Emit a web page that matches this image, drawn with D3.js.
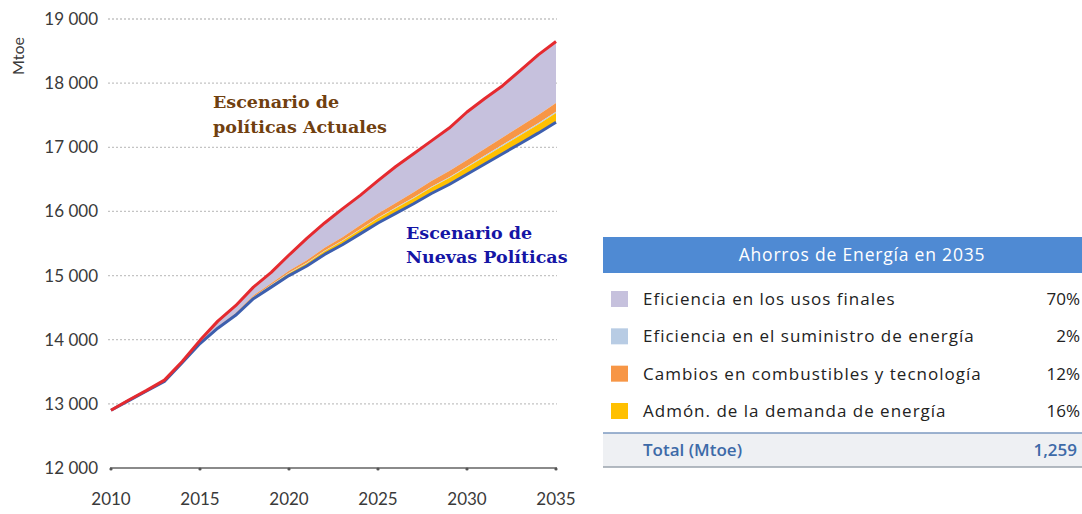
<!DOCTYPE html>
<html>
<head>
<meta charset="utf-8">
<script src="https://cdn.jsdelivr.net/npm/d3@7"></script>
<style>
  body { margin: 0; background: #fff; }
  svg { display: block; }
</style>
</head>
<body>
<div id="chart"></div>
<script>
// years on the x axis
const years = d3.range(2010, 2036);

// Current Policies Scenario (Mtoe)
const currentPolicies = [12900, 13060, 13210, 13370, 13660, 13990, 14290, 14530, 14820, 15050,
  15320, 15580, 15820, 16040, 16250, 16480, 16700, 16900, 17100, 17300,
  17550, 17760, 17960, 18200, 18440, 18650];

// New Policies Scenario (Mtoe)
const newPolicies = [12900, 13050, 13200, 13350, 13640, 13940, 14180, 14380, 14640, 14820,
  15000, 15150, 15330, 15480, 15650, 15820, 15970, 16120, 16280, 16420,
  16580, 16740, 16900, 17060, 17220, 17390];

// savings wedges sitting on top of New Policies (Mtoe)
const demandMgmt = [0, 0, 0, 3, 5, 8, 12, 17, 25, 30, 37, 44, 51, 58, 65, 72, 80, 86, 93, 100, 107, 114, 121, 128, 136, 145];
const supplyEff  = [0, 0, 0, 0, 1, 1, 2, 3, 4, 5, 6, 6, 7, 8, 9, 10, 11, 12, 13, 14, 15, 16, 17, 18, 19, 20];
const fuelSwitch = [0, 0, 0, 2, 4, 6, 10, 14, 20, 25, 31, 38, 45, 52, 60, 66, 72, 80, 88, 95, 100, 108, 115, 122, 128, 135];

const yTicks = [12000, 13000, 14000, 15000, 16000, 17000, 18000, 19000];
const xTicks = [2010, 2015, 2020, 2025, 2030, 2035];

// table
const tableTitle = "Ahorros de Energía en 2035";
const savingsLabels = ["Eficiencia en los usos finales", "Eficiencia en el suministro de energía",
  "Cambios en combustibles y tecnología", "Admón. de la demanda de energía"];
const savingsShares = ["70%", "2%", "12%", "16%"];
const totalLabel = "Total (Mtoe)";
const totalValue = "1,259";

const colors = {
  end: "#c6c1dd",
  supply: "#b8cce4",
  fuel: "#f79646",
  demand: "#ffc000"
};
const swatches = [colors.end, colors.supply, colors.fuel, colors.demand];

const W = 1082, H = 514;
const svg = d3.select("#chart").append("svg").attr("width", W).attr("height", H);

const x = d3.scaleLinear().domain([2010, 2035]).range([111, 556]);
const y = d3.scaleLinear().domain([12000, 19000]).range([468, 19]);

const tickFont = "Lato, 'Open Sans', sans-serif";

// gridlines
svg.append("g").selectAll("line")
  .data(yTicks.filter(d => d > 12000))
  .join("line")
    .attr("x1", 108).attr("x2", 557)
    .attr("y1", d => y(d)).attr("y2", d => y(d))
    .attr("stroke", "#c4c4c4")
    .attr("stroke-width", 1.3)
    .attr("stroke-dasharray", "2,2");

// stacked bands
const rows = years.map((yr, i) => {
  const b0 = newPolicies[i];
  const b1 = b0 + demandMgmt[i];
  const b2 = b1 + supplyEff[i];
  const b3 = b2 + fuelSwitch[i];
  return { yr, b0, b1, b2, b3, top: Math.max(currentPolicies[i], b3) };
});

const band = (lo, hi) => d3.area()
  .x(d => x(d.yr))
  .y0(d => y(d[lo]))
  .y1(d => y(d[hi]));

const bandsG = svg.append("g");
bandsG.append("path").datum(rows).attr("d", band("b3", "top")).attr("fill", colors.end);
bandsG.append("path").datum(rows).attr("d", band("b2", "b3")).attr("fill", colors.fuel);
bandsG.append("path").datum(rows).attr("d", band("b1", "b2")).attr("fill", colors.supply);
bandsG.append("path").datum(rows).attr("d", band("b0", "b1")).attr("fill", colors.demand);

const line = d3.line().x((d, i) => x(years[i])).y(d => y(d));

svg.append("path").datum(newPolicies)
  .attr("d", line)
  .attr("fill", "none")
  .attr("stroke", "#3d5fae")
  .attr("stroke-width", 3)
  .attr("stroke-linejoin", "round");

svg.append("path").datum(currentPolicies)
  .attr("d", line)
  .attr("fill", "none")
  .attr("stroke", "#e52a2f")
  .attr("stroke-width", 3)
  .attr("stroke-linejoin", "round");

// x axis
const xAxis = svg.append("g").attr("transform", `translate(0,${y(12000)})`);
xAxis.append("line")
  .attr("x1", 110).attr("x2", 557)
  .attr("stroke", "#8a8a8a").attr("stroke-width", 2.2);
xAxis.selectAll("circle.tk")
  .data(xTicks)
  .join("circle")
    .attr("class", "tk")
    .attr("cx", d => x(d)).attr("cy", 1)
    .attr("r", 1.6)
    .attr("fill", "#555");
xAxis.selectAll("text")
  .data(xTicks)
  .join("text")
    .attr("x", d => x(d)).attr("y", 37)
    .attr("text-anchor", "middle")
    .attr("font-family", tickFont)
    .attr("font-size", 17)
    .attr("fill", "#3a3a3a")
    .text(d => d);

// y axis labels
svg.append("g").selectAll("text")
  .data(yTicks)
  .join("text")
    .attr("x", 98).attr("y", d => y(d) + 6)
    .attr("text-anchor", "end")
    .attr("font-family", tickFont)
    .attr("font-size", 17)
    .attr("fill", "#3a3a3a")
    .text(d => d3.format(",")(d).replace(",", " "));

svg.append("text")
  .attr("transform", "translate(24,56) rotate(-90)")
  .attr("text-anchor", "middle")
  .attr("font-family", tickFont)
  .attr("font-size", 16)
  .attr("fill", "#3a3a3a")
  .text("Mtoe");

// scenario labels
const serif = "'DejaVu Serif', 'Liberation Serif', serif";
const cps = svg.append("text")
  .attr("font-family", serif)
  .attr("font-weight", "bold")
  .attr("font-size", 17.5)
  .attr("fill", "#70400f");
cps.append("tspan").attr("x", 213).attr("y", 108).text("Escenario de");
cps.append("tspan").attr("x", 213).attr("y", 133).text("políticas Actuales");

const nps = svg.append("text")
  .attr("font-family", serif)
  .attr("font-weight", "bold")
  .attr("font-size", 17.5)
  .attr("fill", "#1515a5");
nps.append("tspan").attr("x", 406).attr("y", 239).text("Escenario de");
nps.append("tspan").attr("x", 406).attr("y", 263).text("Nuevas Políticas");

// table
const tbl = svg.append("g");
const tFont = "'Open Sans', Lato, sans-serif";
tbl.append("rect")
  .attr("x", 603).attr("y", 237)
  .attr("width", W - 603).attr("height", 36)
  .attr("fill", "#4f8ad3");
tbl.append("text")
  .attr("x", 862).attr("y", 261)
  .attr("text-anchor", "middle")
  .attr("font-family", tFont)
  .attr("font-size", 17.5)
  .attr("letter-spacing", 0.8)
  .attr("fill", "#fff")
  .text(tableTitle);

const rowY = d3.scalePoint().domain(d3.range(savingsLabels.length)).range([299, 411]);

const rowG = tbl.selectAll("g.row")
  .data(savingsLabels)
  .join("g")
    .attr("class", "row")
    .attr("transform", (d, i) => `translate(0,${rowY(i)})`);
rowG.append("rect")
  .attr("x", 611).attr("y", -8)
  .attr("width", 17).attr("height", 16)
  .attr("fill", (d, i) => swatches[i]);
rowG.append("text")
  .attr("x", 643).attr("y", 6)
  .attr("font-family", tFont)
  .attr("font-size", 17)
  .attr("letter-spacing", 1)
  .attr("fill", "#222")
  .text(d => d);
rowG.append("text")
  .attr("x", 1080).attr("y", 6)
  .attr("text-anchor", "end")
  .attr("font-family", tFont)
  .attr("font-size", 17)
  .attr("fill", "#222")
  .text((d, i) => savingsShares[i]);

tbl.append("rect")
  .attr("x", 603).attr("y", 433)
  .attr("width", W - 603).attr("height", 34)
  .attr("fill", "#eef0f3");
tbl.append("line")
  .attr("x1", 603).attr("x2", W)
  .attr("y1", 433).attr("y2", 433)
  .attr("stroke", "#7d9ac0").attr("stroke-width", 1.5);
tbl.append("line")
  .attr("x1", 603).attr("x2", W)
  .attr("y1", 467).attr("y2", 467)
  .attr("stroke", "#9aa3ad").attr("stroke-width", 1.5);
tbl.append("text")
  .attr("x", 643).attr("y", 456)
  .attr("font-family", tFont)
  .attr("font-size", 17)
  .attr("font-weight", 600)
  .attr("fill", "#3d6aa8")
  .text(totalLabel);
tbl.append("text")
  .attr("x", 1077).attr("y", 456)
  .attr("text-anchor", "end")
  .attr("font-family", tFont)
  .attr("font-size", 17)
  .attr("font-weight", 600)
  .attr("fill", "#3d6aa8")
  .text(totalValue);
</script>
</body>
</html>
